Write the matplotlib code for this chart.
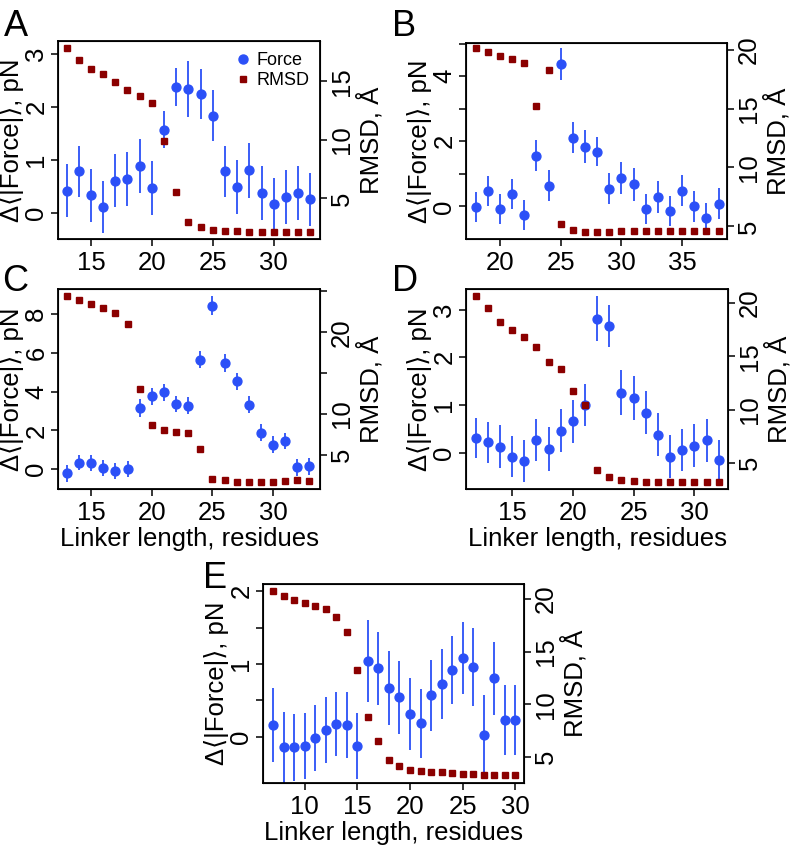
import numpy as np
import matplotlib
matplotlib.use("Agg")
import matplotlib.pyplot as plt
from matplotlib.lines import Line2D

plt.rcParams['font.family'] = ['Liberation Sans', 'DejaVu Sans']

FORCE_C = '#2b50f7'
RMSD_C = '#8b0000'
FS = 18.5

# panel A
a_x = list(range(13, 34))
a_force = [0.41, 0.78, 0.33, 0.10, 0.60, 0.64, 0.87, 0.47, 1.56, 2.37, 2.34,
           2.24, 1.83, 0.78, 0.49, 0.80, 0.36, 0.16, 0.30, 0.36, 0.25]
a_err = [0.50, 0.48, 0.50, 0.49, 0.50, 0.51, 0.51, 0.51, 0.35, 0.36, 0.53,
         0.48, 0.48, 0.48, 0.51, 0.52, 0.51, 0.50, 0.51, 0.51, 0.50]
a_rmsd = [17.83, 16.78, 16.08, 15.6, 14.94, 14.26, 13.75, 13.13, 9.94, 5.54, 2.99,
          2.54, 2.34, 2.25, 2.2, 2.17, 2.17, 2.16, 2.16, 2.15, 2.15]

# panel B
b_x = list(range(18, 39))
b_force = [-0.02, 0.46, -0.08, 0.39, -0.26, 1.56, 0.64, 4.37, 2.11, 1.84, 1.68,
           0.55, 0.87, 0.68, -0.08, 0.29, -0.13, 0.48, 0.0, -0.34, 0.09]
b_err = [0.46, 0.46, 0.47, 0.46, 0.47, 0.47, 0.47, 0.49, 0.48, 0.50, 0.45,
         0.47, 0.49, 0.50, 0.47, 0.48, 0.46, 0.48, 0.47, 0.45, 0.48]
b_rmsd = [20.17, 19.83, 19.49, 19.18, 18.9, 15.23, 18.28, 5.2, 4.66, 4.49, 4.49,
          4.52, 4.58, 4.58, 4.58, 4.58, 4.58, 4.6, 4.58, 4.6, 4.6]

# panel C
c_x = list(range(13, 34))
c_force = [-0.21, 0.34, 0.31, 0.05, -0.09, 0.0, 3.15, 3.75, 3.96, 3.36, 3.27,
           5.65, 8.43, 5.47, 4.53, 3.32, 1.89, 1.26, 1.46, 0.10, 0.14]
c_err = [0.43, 0.40, 0.42, 0.42, 0.43, 0.42, 0.47, 0.45, 0.45, 0.43, 0.43,
         0.45, 0.48, 0.45, 0.43, 0.43, 0.42, 0.43, 0.43, 0.43, 0.43]
c_rmsd = [24.39, 23.9, 23.45, 22.96, 22.35, 21.04, 13.12, 8.67, 8.06, 7.86, 7.73,
          5.73, 2.06, 1.94, 1.65, 1.73, 1.73, 1.73, 1.82, 1.94, 1.86]

# panel D
d_x = list(range(12, 33))
d_force = [0.31, 0.22, 0.13, -0.08, -0.17, 0.27, 0.07, 0.46, 0.66, 1.0, 2.81,
           2.65, 1.26, 1.14, 0.84, 0.38, -0.08, 0.06, 0.15, 0.26, -0.16]
d_err = [0.42, 0.43, 0.45, 0.43, 0.44, 0.44, 0.46, 0.45, 0.45, 0.45, 0.47,
         0.44, 0.47, 0.46, 0.45, 0.45, 0.46, 0.44, 0.45, 0.45, 0.43]
d_rmsd = [20.58, 19.49, 18.24, 17.46, 16.78, 15.9, 14.5, 13.82, 11.76, 10.45, 4.38,
          3.69, 3.44, 3.35, 3.29, 3.29, 3.29, 3.29, 3.29, 3.29, 3.29]

# panel E
e_x = list(range(7, 31))
e_force = [0.16, -0.15, -0.15, -0.13, -0.02, 0.09, 0.17, 0.16, -0.13, 1.04, 0.94, 0.67,
           0.54, 0.31, 0.18, 0.57, 0.72, 0.92, 1.08, 0.96, 0.02, 0.80, 0.23, 0.23]
e_err = [0.51, 0.49, 0.46, 0.45, 0.45, 0.45, 0.44, 0.45, 0.46, 0.57, 0.50, 0.51,
         0.50, 0.49, 0.48, 0.49, 0.48, 0.47, 0.49, 0.54, 0.55, 0.50, 0.48, 0.48]
e_rmsd = [20.76, 20.31, 19.9, 19.65, 19.37, 19.02, 18.26, 16.84, 13.27, 8.79, 6.48, 4.75,
          4.12, 3.74, 3.64, 3.58, 3.55, 3.48, 3.42, 3.35, 3.33, 3.3, 3.3, 3.3]

W, H = 793, 848
fig = plt.figure(figsize=(W / 100, H / 100), dpi=100)


def px_axes(l, t, r, b):
    return fig.add_axes([l / W, 1 - b / H, (r - l) / W, (b - t) / H])


def tick_labels(vals, show):
    return [str(v) if v in show else '' for v in vals]


def panel(box, x, force, err, rmsd, xlim, ylim, ylim2, xt, yt, yshow, rt, rshow,
          xlabel=False, legend=False):
    ax = px_axes(*box)
    ax.errorbar(x, force, yerr=err, fmt='o', color=FORCE_C, ms=6.4, elinewidth=1.3,
                capsize=0)
    ax.set_xlim(*xlim)
    ax.set_ylim(*ylim)
    ax.set_xticks(xt)
    ax.set_yticks(yt)
    ax.set_yticklabels(tick_labels(yt, yshow), rotation=90, va='center')
    ax.tick_params(labelsize=FS, length=5, width=1.1, pad=2)
    ax.tick_params(axis='x', pad=4)
    ax.set_ylabel('Δ⟨|Force|⟩, pN', fontsize=FS, labelpad=0)
    for s in ax.spines.values():
        s.set_linewidth(1.3)

    ax2 = ax.twinx()
    ax2.plot(x, rmsd, 's', color=RMSD_C, ms=4.8)
    ax2.set_ylim(*ylim2)
    ax2.set_yticks(rt)
    ax2.set_yticklabels(tick_labels(rt, rshow), rotation=90, va='center')
    ax2.tick_params(labelsize=FS, length=5, width=1.1, pad=2)
    ax2.set_ylabel('RMSD, Å', fontsize=FS, labelpad=2)
    if xlabel:
        ax.set_xlabel('Linker length, residues', fontsize=FS, labelpad=1)
    if legend:
        handles = [Line2D([], [], ls='none', marker='o', color=FORCE_C, ms=6.5),
                   Line2D([], [], ls='none', marker='s', color=RMSD_C, ms=5)]
        ax2.legend(handles, ['Force', 'RMSD'], loc='upper right', frameon=False,
                   fontsize=13, handletextpad=0.1, borderaxespad=0.2,
                   labelspacing=0.2, handlelength=1.3)
    return ax


panel((58, 41, 320, 239), a_x, a_force, a_err, a_rmsd, (12.3, 33.8), (-0.5, 3.24),
      (1.54, 18.43), [15, 20, 25, 30], [0, 1, 2, 3], [0, 1, 2, 3],
      [5, 10, 15], [5, 10, 15], legend=True)
panel((466, 43, 727, 239), b_x, b_force, b_err, b_rmsd, (17.2, 38.7), (-1.0, 5.02),
      (3.93, 20.56), [20, 25, 30, 35], [0, 1, 2, 3, 4, 5], [0, 2, 4],
      [5, 10, 15, 20], [5, 10, 15, 20])
panel((58, 289, 320, 489), c_x, c_force, c_err, c_rmsd, (12.26, 33.88), (-1.02, 9.29),
      (0.84, 25.29), [15, 20, 25, 30], [0, 2, 4, 6, 8], [0, 2, 4, 6, 8],
      [5, 10, 15, 20, 25], [5, 10, 20], xlabel=True)
panel((466, 289, 728, 489), d_x, d_force, d_err, d_rmsd, (11.2, 32.77), (-0.76, 3.43),
      (2.6, 21.28), [15, 20, 25, 30], [0, 1, 2, 3], [0, 1, 2, 3],
      [5, 10, 15, 20], [5, 10, 15, 20], xlabel=True)
panel((263, 584, 524, 783), e_x, e_force, e_err, e_rmsd, (6.05, 30.82), (-0.64, 2.10),
      (2.54, 21.42), [10, 15, 20, 25, 30], [0, 0.5, 1, 1.5, 2], [0, 1, 2],
      [5, 10, 15, 20], [5, 10, 15, 20], xlabel=True)

for letter, lx, ly in [('A', 4, 9), ('B', 392, 9), ('C', 2, 264), ('D', 392, 264),
                       ('E', 203, 561)]:
    fig.text(lx / W, 1 - ly / H, letter, fontsize=26, va='top', ha='left')

fig.savefig('out.png', dpi=100)
